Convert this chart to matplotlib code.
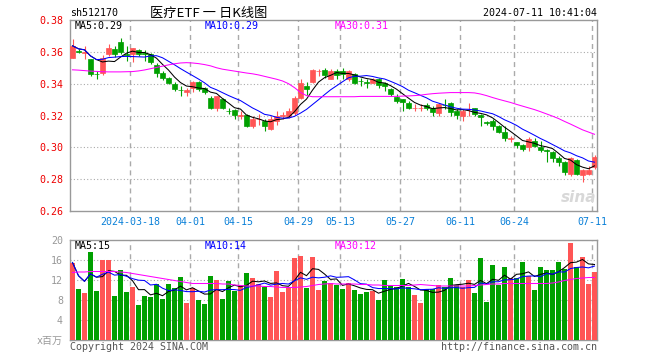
import numpy as np
import pandas as pd
import matplotlib
matplotlib.use("Agg")
import matplotlib.pyplot as plt

plt.rcParams['font.family'] = ['DejaVu Sans Mono', 'Noto Sans CJK SC']
plt.rcParams['lines.scale_dashes'] = False

# daily K-line, sh512170, 2024-03-04 .. 2024-07-11 (88 trading days)
opens = [0.3564, 0.3606, 0.3592, 0.3554, 0.3462, 0.3470, 0.3585, 0.3617, 0.3659, 0.3587,
         0.3585, 0.3612, 0.3590, 0.3585, 0.3516, 0.3470, 0.3433, 0.3401, 0.3362, 0.3349,
         0.3370, 0.3412, 0.3370, 0.3313, 0.3245, 0.3306, 0.3231, 0.3235, 0.3200, 0.3202,
         0.3131, 0.3175, 0.3167, 0.3115, 0.3167, 0.3200, 0.3198, 0.3215, 0.3312, 0.3385,
         0.3410, 0.3478, 0.3485, 0.3431, 0.3479, 0.3479, 0.3427, 0.3458, 0.3419, 0.3408,
         0.3406, 0.3427, 0.3406, 0.3365, 0.3319, 0.3302, 0.3281, 0.3248, 0.3248, 0.3267,
         0.3250, 0.3215, 0.3267, 0.3277, 0.3229, 0.3198, 0.3238, 0.3250, 0.3202, 0.3157,
         0.3167, 0.3131, 0.3094, 0.3054, 0.3031, 0.3015, 0.3002, 0.3042, 0.3000, 0.2981,
         0.2969, 0.2931, 0.2906, 0.2835, 0.2919, 0.2829, 0.2835, 0.2875]
highs = [0.3680, 0.3617, 0.3634, 0.3558, 0.3480, 0.3580, 0.3648, 0.3634, 0.3685, 0.3638,
         0.3627, 0.3617, 0.3612, 0.3592, 0.3529, 0.3480, 0.3439, 0.3412, 0.3387, 0.3370,
         0.3418, 0.3418, 0.3376, 0.3320, 0.3324, 0.3312, 0.3250, 0.3240, 0.3229, 0.3208,
         0.3194, 0.3208, 0.3177, 0.3194, 0.3229, 0.3219, 0.3244, 0.3320, 0.3427, 0.3410,
         0.3494, 0.3494, 0.3500, 0.3494, 0.3494, 0.3500, 0.3485, 0.3469, 0.3437, 0.3431,
         0.3437, 0.3437, 0.3410, 0.3375, 0.3333, 0.3302, 0.3292, 0.3270, 0.3270, 0.3281,
         0.3260, 0.3281, 0.3306, 0.3285, 0.3240, 0.3240, 0.3277, 0.3250, 0.3208, 0.3167,
         0.3177, 0.3140, 0.3131, 0.3073, 0.3035, 0.3021, 0.3063, 0.3056, 0.3042, 0.2990,
         0.2979, 0.2944, 0.2917, 0.2940, 0.2925, 0.2867, 0.2885, 0.2954]
lows = [0.3560, 0.3592, 0.3554, 0.3450, 0.3428, 0.3453, 0.3575, 0.3570, 0.3585, 0.3543,
        0.3533, 0.3575, 0.3543, 0.3522, 0.3445, 0.3424, 0.3397, 0.3355, 0.3324, 0.3324,
        0.3345, 0.3355, 0.3334, 0.3240, 0.3229, 0.3240, 0.3208, 0.3177, 0.3177, 0.3125,
        0.3119, 0.3140, 0.3104, 0.3111, 0.3140, 0.3177, 0.3185, 0.3202, 0.3302, 0.3327,
        0.3406, 0.3448, 0.3437, 0.3427, 0.3431, 0.3431, 0.3417, 0.3396, 0.3385, 0.3375,
        0.3402, 0.3375, 0.3354, 0.3323, 0.3281, 0.3229, 0.3240, 0.3229, 0.3229, 0.3235,
        0.3198, 0.3198, 0.3240, 0.3198, 0.3177, 0.3163, 0.3198, 0.3198, 0.3131, 0.3140,
        0.3111, 0.3090, 0.3042, 0.3031, 0.2994, 0.2975, 0.2975, 0.3000, 0.2969, 0.2910,
        0.2910, 0.2885, 0.2827, 0.2820, 0.2825, 0.2785, 0.2825, 0.2865]
closes = [0.3638, 0.3600, 0.3600, 0.3460, 0.3458, 0.3564, 0.3627, 0.3585, 0.3600, 0.3582,
          0.3627, 0.3585, 0.3585, 0.3533, 0.3470, 0.3433, 0.3407, 0.3365, 0.3359, 0.3361,
          0.3412, 0.3366, 0.3349, 0.3246, 0.3320, 0.3250, 0.3227, 0.3202, 0.3203, 0.3131,
          0.3181, 0.3179, 0.3135, 0.3177, 0.3198, 0.3202, 0.3229, 0.3313, 0.3406, 0.3364,
          0.3485, 0.3481, 0.3452, 0.3479, 0.3452, 0.3458, 0.3479, 0.3406, 0.3415, 0.3404,
          0.3427, 0.3390, 0.3385, 0.3333, 0.3292, 0.3285, 0.3250, 0.3250, 0.3250, 0.3246,
          0.3219, 0.3271, 0.3264, 0.3219, 0.3202, 0.3229, 0.3240, 0.3208, 0.3188, 0.3156,
          0.3135, 0.3098, 0.3056, 0.3056, 0.3015, 0.2990, 0.3054, 0.3010, 0.2983, 0.2979,
          0.2935, 0.2906, 0.2848, 0.2933, 0.2835, 0.2856, 0.2856, 0.2938]
# volume in millions
volumes = [15.5, 10.2, 9.5, 17.7, 9.9, 16.1, 16.1, 8.8, 14.0, 9.7,
           10.7, 7.1, 8.9, 8.7, 11.3, 8.3, 11.3, 10.4, 12.6, 7.5,
           10.5, 8.0, 7.3, 12.8, 12.0, 8.3, 11.9, 9.9, 11.1, 13.4,
           12.5, 11.3, 10.7, 8.7, 13.9, 9.7, 10.7, 16.5, 16.9, 10.5,
           16.7, 10.0, 11.9, 11.5, 11.0, 10.2, 11.5, 10.0, 9.3, 9.6,
           9.9, 8.0, 12.0, 11.1, 10.6, 12.2, 10.7, 9.0, 7.5, 10.2,
           10.2, 11.0, 10.7, 12.4, 11.0, 10.7, 12.0, 9.5, 16.4, 7.7,
           15.1, 11.0, 14.6, 12.5, 12.5, 15.6, 12.9, 10.0, 14.6, 14.0,
           14.0, 15.6, 14.2, 19.5, 14.6, 16.6, 11.2, 13.6]
# 30-day averages as drawn (they need history before the first bar)
ma30_price = [0.3487, 0.3485, 0.3482, 0.3479, 0.3477, 0.3475, 0.3474, 0.3474, 0.3474, 0.3475,
              0.3476, 0.3480, 0.3486, 0.3494, 0.3502, 0.3510, 0.3518, 0.3525, 0.3530, 0.3532,
              0.3530, 0.3526, 0.3520, 0.3512, 0.3500, 0.3491, 0.3485, 0.3479, 0.3473, 0.3467,
              0.3462, 0.3455, 0.3446, 0.3437, 0.3428, 0.3417, 0.3400, 0.3375, 0.3345, 0.3325,
              0.3318, 0.3318, 0.3318, 0.3318, 0.3318, 0.3318, 0.3318, 0.3318, 0.3320, 0.3320,
              0.3320, 0.3320, 0.3320, 0.3320, 0.3320, 0.3322, 0.3323, 0.3325, 0.3328, 0.3333,
              0.3337, 0.3340, 0.3342, 0.3344, 0.3344, 0.3344, 0.3344, 0.3342, 0.3335, 0.3325,
              0.3313, 0.3302, 0.3292, 0.3282, 0.3270, 0.3259, 0.3248, 0.3237, 0.3224, 0.3210,
              0.3196, 0.3181, 0.3163, 0.3146, 0.3128, 0.3110, 0.3096, 0.3082]
ma30_vol = [13.5, 13.6, 13.6, 13.7, 13.7, 13.7, 13.7, 13.7, 13.6, 13.5,
            13.3, 13.1, 12.9, 12.7, 12.5, 12.3, 12.1, 11.9, 11.7, 11.5,
            11.3, 11.3, 11.3, 11.3, 11.3, 11.2, 11.2, 11.0, 10.9, 10.8,
            10.8, 10.8, 10.7, 10.7, 10.6, 10.5, 10.5, 10.5, 10.6, 10.7,
            10.9, 11.1, 11.2, 11.3, 11.2, 11.2, 11.2, 11.2, 11.1, 11.1,
            11.0, 11.0, 10.9, 10.9, 10.9, 10.9, 10.9, 11.0, 11.1, 11.0,
            10.9, 10.8, 10.8, 10.8, 10.8, 10.8, 10.8, 10.9, 11.0, 11.1,
            11.2, 11.2, 11.3, 11.3, 11.3, 11.3, 11.3, 11.3, 11.3, 11.3,
            11.4, 11.6, 11.9, 12.1, 12.3, 12.4, 12.5, 12.5]

tick_idx = [10, 20, 28, 38, 45, 55, 65, 74, 87]
tick_labels = ["2024-03-18", "04-01", "04-15", "04-29", "05-13", "05-27", "06-11", "06-24", "07-11"]
price_ticks = [0.26, 0.28, 0.30, 0.32, 0.34, 0.36, 0.38]
vol_ticks = [0, 4, 8, 12, 16, 20]
vol_tick_labels = ["x百万", "4", "8", "12", "16", "20"]

df = pd.DataFrame({"open": opens, "high": highs, "low": lows, "close": closes, "vol": volumes})
df["ma5"] = df["close"].rolling(5, min_periods=1).mean()
df["ma10"] = df["close"].rolling(10, min_periods=1).mean()
df["vma5"] = df["vol"].rolling(5, min_periods=1).mean()
df["vma10"] = df["vol"].rolling(10, min_periods=1).mean()

RED = "#ff5555"
GREEN = "#00a000"
GRID = "#aaaaaa"
W, H = 660, 360

fig = plt.figure(figsize=(6.6, 3.6), dpi=100)


def px_axes(l, t, r, b):
    return fig.add_axes([l / W, 1 - b / H, (r - l) / W, (b - t) / H])


def ftext(x, y, s, **kw):
    kw.setdefault("va", "center")
    kw.setdefault("size", 7.2)
    fig.text(x / W, 1 - y / H, s, **kw)


ax = px_axes(70, 20, 597, 211)
axv = px_axes(70, 240, 597, 340)

x = np.arange(len(df))
bw = 5 / 6
xc = x + bw / 2
up = df["close"] >= df["open"]
cols = [RED if u else GREEN for u in up]

# candles
ax.vlines(xc, df["low"], df["high"], colors=cols, linewidth=0.8, zorder=2)
ax.bar(x, (df["close"] - df["open"]).abs(), bottom=df[["open", "close"]].min(axis=1),
       width=bw, align="edge", color=cols, edgecolor=cols, linewidth=0.5, zorder=3)
ax.plot(xc, df["ma5"], color="black", lw=0.75, zorder=4)
ax.plot(xc, df["ma10"], color="#0000ff", lw=0.75, zorder=4)
ax.plot(xc, ma30_price, color="#ff00ff", lw=0.75, zorder=4)

# volume
axv.bar(x, df["vol"], width=bw, align="edge", color=cols, linewidth=0, zorder=3)
axv.plot(xc, df["vma5"], color="black", lw=0.75, zorder=4)
axv.plot(xc, df["vma10"], color="#0000ff", lw=0.75, zorder=4)
axv.plot(xc, ma30_vol, color="#ff00ff", lw=0.75, zorder=4)

for a, lo, hi, yt in [(ax, 0.26, 0.38, price_ticks), (axv, 0, 20, vol_ticks)]:
    a.set_xlim(0, 527 / 6)
    a.set_ylim(lo, hi)
    for t in tick_idx:
        a.axvline(t, color=GRID, ls=(0, (3.6, 2.9)), lw=1.0, zorder=0)
    for v in yt[1:-1]:
        a.axhline(v, color=GRID, ls=(0, (0.8, 1.6)), lw=0.8, zorder=0)
    for s in a.spines.values():
        s.set_color("#999999")
        s.set_linewidth(1.0)
    a.set_xticks(tick_idx)
    a.set_yticks(yt)

ax.set_xticklabels(tick_labels)
ax.set_yticklabels(["%.2f" % v for v in price_ticks])
ax.tick_params(axis="x", length=0, pad=4, labelcolor="#0a80d8", labelsize=7.2)
ax.tick_params(axis="y", length=0, pad=5, labelcolor="#ee0000", labelsize=7.2)

axv.set_yticklabels(vol_tick_labels)
axv.tick_params(axis="x", length=0, labelbottom=False)
axv.tick_params(axis="y", length=0, pad=5, labelcolor="#999999", labelsize=7.2)

# header / labels
ftext(70, 13.5, "sh512170", ha="left")
ftext(209, 13, "医疗ETF 一 日K线图", ha="center", size=9.5, family=["Noto Sans CJK SC", "DejaVu Sans"])
ftext(597, 13.5, "2024-07-11 10:41:04", ha="right")

ftext(75, 26, "MA5:0.29", ha="left", color="black")
ftext(205, 26, "MA10:0.29", ha="left", color="#0000ff")
ftext(335, 26, "MA30:0.31", ha="left", color="#ff00ff")

ftext(75, 246, "MA5:15", ha="left", color="black")
ftext(205, 246, "MA10:14", ha="left", color="#0000ff")
ftext(335, 246, "MA30:12", ha="left", color="#ff00ff")

ftext(70, 346.5, "Copyright 2024 SINA.COM", ha="left", color="#555555")
ftext(597, 346.5, "http://finance.sina.com.cn", ha="right", color="#555555")

# sina watermark
ftext(579, 197, "sina", ha="center", size=11, style="italic", weight="bold",
      color="#d8d8d8", family="DejaVu Sans")

fig.savefig("out.png", dpi=100)
